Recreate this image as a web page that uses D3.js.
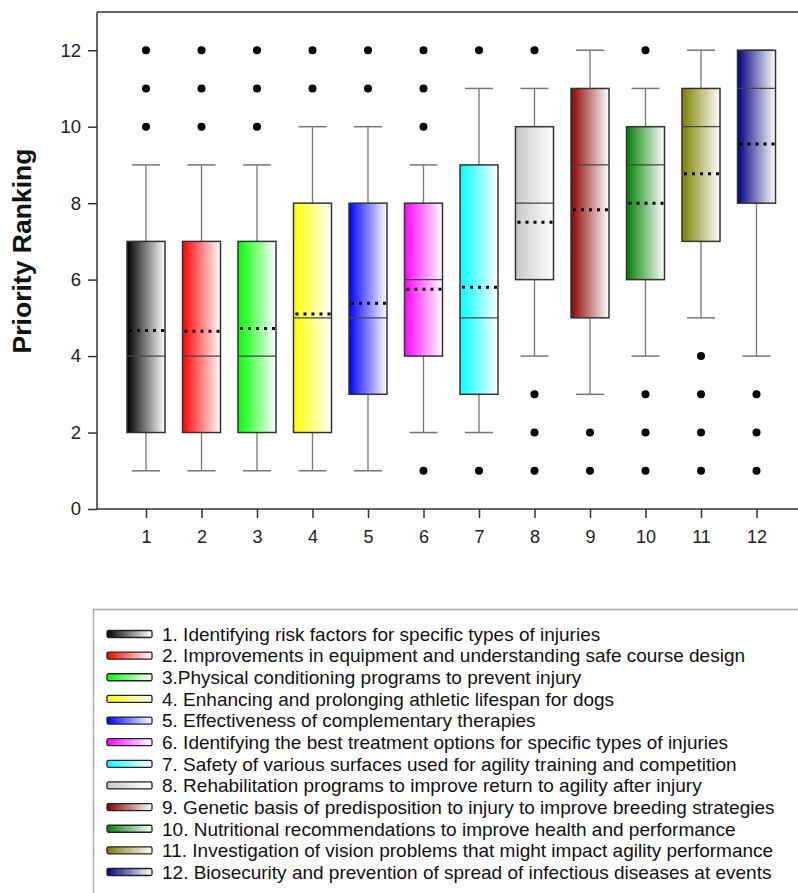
<!DOCTYPE html>
<html>
<head>
<meta charset="utf-8">
<script src="https://cdn.jsdelivr.net/npm/d3@7"></script>
<style>
  body { margin: 0; background: #fff; }
  svg { font-family: "Liberation Sans", Arial, sans-serif; }
</style>
</head>
<body>
<svg id="chart" width="798" height="893"></svg>
<script>
// Data
const categories = [1, 2, 3, 4, 5, 6, 7, 8, 9, 10, 11, 12]
const q1 = [2, 2, 2, 2, 3, 4, 3, 6, 5, 6, 7, 8]
const median = [4, 4, 4, 5, 5, 6, 5, 8, 9, 9, 10, 11]
const q3 = [7, 7, 7, 8, 8, 8, 9, 10, 11, 10, 11, 12]
const whiskerLow = [1, 1, 1, 1, 1, 2, 2, 4, 3, 4, 5, 4]
const whiskerHigh = [9, 9, 9, 10, 10, 9, 11, 11, 12, 11, 12, 12]
const means = [4.67, 4.65, 4.72, 5.1, 5.38, 5.75, 5.8, 7.5, 7.83, 8.0, 8.77, 9.55]
const outliers = [
    [10, 11, 12], [10, 11, 12], [10, 11, 12], [11, 12], [11, 12],
    [1, 10, 11, 12], [1, 12], [1, 2, 3, 12], [1, 2], [1, 2, 3, 12],
    [1, 2, 3, 4], [1, 2, 3]
]
const colors = ["#000000", "#ff0000", "#00ff00", "#ffff00", "#0000ff", "#ff00ff",
    "#00ffff", "#c8c8c8", "#8b0000", "#008000", "#808000", "#000080"]
const yTicks = [0, 2, 4, 6, 8, 10, 12]
const legendLabels = [
    "1. Identifying risk factors for specific types of injuries",
    "2. Improvements in equipment and understanding safe course design",
    "3.Physical conditioning programs to prevent injury",
    "4. Enhancing and prolonging athletic lifespan for dogs",
    "5. Effectiveness of complementary therapies",
    "6. Identifying the best treatment options for specific types of injuries",
    "7. Safety of various surfaces used for agility training and competition",
    "8. Rehabilitation programs to improve return to agility after injury",
    "9. Genetic basis of predisposition to injury to improve breeding strategies",
    "10. Nutritional recommendations to improve health and performance",
    "11. Investigation of vision problems that might impact agility performance",
    "12. Biosecurity and prevention of spread of infectious diseases at events"
]

const boxes = categories.map((c, i) => ({
    cat: c, q1: q1[i], med: median[i], q3: q3[i],
    lo: whiskerLow[i], hi: whiskerHigh[i], mean: means[i],
    out: outliers[i], color: colors[i]
}))

const svg = d3.select("#chart")

const x = d3.scaleLinear().domain([1, 12]).range([146, 756.5])
const y = d3.scaleLinear().domain([0, 13]).range([509, 12])
const boxW = 38, capW = 28

// gradients
const defs = svg.append("defs")
boxes.forEach((d, i) => {
    const g = defs.append("linearGradient")
        .attr("id", "grad" + i)
        .attr("x1", "0%").attr("x2", "100%").attr("y1", "0%").attr("y2", "0%")
    g.append("stop").attr("offset", "0%").attr("stop-color", d.color)
    g.append("stop").attr("offset", "100%").attr("stop-color", "#ffffff")
})

// frame
svg.append("line")
    .attr("x1", 97).attr("x2", 798).attr("y1", y(13)).attr("y2", y(13))
    .attr("stroke", "#333").attr("stroke-width", 1.5)

// axes
const yAxis = d3.axisLeft(y).tickValues(yTicks).tickSize(9).tickPadding(7)
svg.append("g")
    .attr("transform", "translate(97,0)")
    .call(yAxis)
    .call(g => g.select(".domain").attr("stroke", "#333").attr("stroke-width", 1.5)
        .attr("d", "M0," + y(13) + "V" + y(0)))
    .call(g => g.selectAll(".tick line").attr("stroke", "#333").attr("stroke-width", 1.5))
    .call(g => g.selectAll(".tick text").attr("font-size", 18.5).attr("fill", "#222")
        .attr("font-family", "Liberation Sans, Arial, sans-serif"))

const xAxis = d3.axisBottom(x).tickValues(categories).tickSize(9).tickPadding(12)
svg.append("g")
    .attr("transform", "translate(0," + y(0) + ")")
    .call(xAxis)
    .call(g => g.select(".domain").attr("stroke", "#333").attr("stroke-width", 1.5)
        .attr("d", "M97,0H798"))
    .call(g => g.selectAll(".tick line").attr("stroke", "#333").attr("stroke-width", 1.5))
    .call(g => g.selectAll(".tick text").attr("font-size", 18).attr("fill", "#222")
        .attr("font-family", "Liberation Sans, Arial, sans-serif"))

svg.append("text")
    .attr("transform", "translate(31,251) rotate(-90)")
    .attr("text-anchor", "middle")
    .attr("font-size", 25).attr("font-weight", "bold").attr("fill", "#111")
    .attr("textLength", 205).attr("lengthAdjust", "spacingAndGlyphs")
    .text("Priority Ranking")

// boxes
const bg = svg.append("g").selectAll("g")
    .data(boxes)
    .join("g")
    .attr("transform", d => "translate(" + x(d.cat) + ",0)")

bg.append("line")
    .attr("x1", 0).attr("x2", 0)
    .attr("y1", d => y(d.hi)).attr("y2", d => y(d.lo))
    .attr("stroke", "#777").attr("stroke-width", 1.3)

bg.selectAll(".cap")
    .data(d => [d.lo, d.hi])
    .join("line")
    .attr("class", "cap")
    .attr("x1", -capW / 2).attr("x2", capW / 2)
    .attr("y1", v => y(v)).attr("y2", v => y(v))
    .attr("stroke", "#777").attr("stroke-width", 1.5)

bg.append("rect")
    .attr("x", -boxW / 2).attr("width", boxW)
    .attr("y", d => y(d.q3)).attr("height", d => y(d.q1) - y(d.q3))
    .attr("fill", (d, i) => "url(#grad" + i + ")")
    .attr("stroke", "#333").attr("stroke-width", 1.5)

bg.append("line")
    .attr("x1", -boxW / 2).attr("x2", boxW / 2)
    .attr("y1", d => y(d.med)).attr("y2", d => y(d.med))
    .attr("stroke", "#444").attr("stroke-width", 1.2)

bg.append("line")
    .attr("x1", -boxW / 2 + 2).attr("x2", boxW / 2)
    .attr("y1", d => y(d.mean)).attr("y2", d => y(d.mean))
    .attr("stroke", "#000").attr("stroke-width", 3)
    .attr("stroke-dasharray", "3,5")

bg.selectAll(".out")
    .data(d => d.out)
    .join("circle")
    .attr("class", "out")
    .attr("cy", v => y(v)).attr("r", 4)
    .attr("fill", "#000")

// legend
const legend = svg.append("g")
legend.append("rect")
    .attr("x", 93.5).attr("y", 609.5).attr("width", 720).attr("height", 300)
    .attr("fill", "#fff").attr("stroke", "#aaa").attr("stroke-width", 1.5)

const rowY = d3.scaleLinear().domain([0, 11]).range([634, 872])
const lg = legend.selectAll(".item")
    .data(legendLabels)
    .join("g")
    .attr("class", "item")
    .attr("transform", (d, i) => "translate(0," + rowY(i) + ")")

lg.append("rect")
    .attr("x", 107).attr("y", -3.5).attr("width", 45).attr("height", 7)
    .attr("rx", 1.5)
    .attr("fill", (d, i) => "url(#grad" + i + ")")
    .attr("stroke", "#222").attr("stroke-width", 1.3)

lg.append("text")
    .attr("x", 162).attr("y", 0).attr("dy", "0.36em")
    .attr("font-size", 19).attr("fill", "#111")
    .text(d => d)
</script>
</body>
</html>
